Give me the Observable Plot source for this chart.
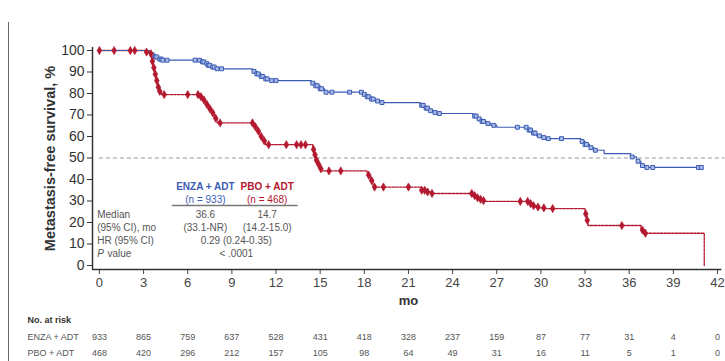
<!DOCTYPE html>
<html>
<head>
<meta charset="utf-8">
<script src="https://cdn.jsdelivr.net/npm/d3@7"></script>
<script src="https://cdn.jsdelivr.net/npm/@observablehq/plot@0.6"></script>
<style>
  html, body { margin: 0; padding: 0; background: #fff; }
  #wrap { position: relative; width: 725px; height: 361px; overflow: hidden; }
  #edge { position: absolute; left: 8px; top: 22px; width: 1px; height: 340px; background: #666; }
  svg { font-family: "Liberation Sans", Arial, sans-serif; }
</style>
</head>
<body>
<div id="wrap"><div id="edge"></div></div>
<script>
// ---- Data ----
const monthTicks = [0, 3, 6, 9, 12, 15, 18, 21, 24, 27, 30, 33, 36, 39, 42];
const survTicks = [0, 10, 20, 30, 40, 50, 60, 70, 80, 90, 100];

// ENZA + ADT Kaplan-Meier steps (time in months, survival %)
const enzaTime = [0, 3.4, 3.6, 3.8, 4.0, 4.3, 7.0, 7.2, 7.4, 7.6, 7.9, 10.4, 10.7, 11.0, 11.3, 11.6,
  14.4, 14.7, 15.0, 15.3, 17.9, 18.2, 18.5, 18.8, 19.1, 21.8, 22.1, 22.4, 22.7, 23.0,
  25.4, 25.7, 26.0, 26.3, 26.6, 27.0, 29.1, 29.4, 29.7, 30.0, 30.3, 32.7, 33.0, 33.3, 33.6,
  34.3, 36.1, 36.5, 36.8, 37.0, 40.9];
const enzaSurv = [100, 99, 98, 97, 96, 95.5, 94.7, 93.9, 93.1, 92.3, 91.5, 90.3, 89.1, 87.9, 86.8, 86.0,
  84.8, 83.6, 82.2, 80.6, 79.6, 78.5, 77.4, 76.5, 75.8, 74.5, 73.2, 72.0, 71.2, 70.7,
  69.5, 68.2, 67.0, 66.0, 65.2, 64.3, 63.0, 61.6, 60.3, 59.5, 59.0, 57.7, 56.3, 54.8, 53.6,
  52.0, 50.5, 48.5, 46.5, 45.6, 45.6];
const enzaCensor = [3.6, 3.8, 3.9, 4.1, 4.2, 4.3, 4.6, 6.5, 6.8, 7.0, 7.1, 7.3, 7.4, 7.5, 7.7, 7.8, 8.0, 8.3,
  10.5, 10.7, 10.8, 11.0, 11.1, 11.3, 11.4, 11.7, 12.0, 14.5, 14.7, 14.8, 15.0, 15.1, 15.4, 15.8, 17.0,
  17.8, 18.0, 18.2, 18.3, 18.5, 18.6, 18.9, 19.2, 21.9, 22.0, 22.2, 22.3, 22.5, 22.8, 23.1,
  25.5, 25.6, 25.8, 26.0, 26.1, 26.4, 26.8, 28.4, 29.0, 29.2, 29.3, 29.5, 29.6, 29.9, 30.2, 30.5, 31.4,
  32.8, 33.0, 33.1, 33.4, 33.7, 36.2, 36.6, 36.9, 37.2, 37.6, 40.7, 40.9];

// PBO + ADT Kaplan-Meier steps
const pboTime = [0, 3.1, 3.4, 3.55, 3.65, 3.75, 3.85, 3.95, 4.05, 4.2, 6.8, 7.0, 7.2, 7.4, 7.6, 7.8, 8.0,
  10.5, 10.7, 10.9, 11.1, 11.3, 14.5, 14.6, 14.7, 14.8, 14.95, 15.1, 18.2, 18.4, 18.6,
  21.9, 22.2, 22.5, 25.4, 25.6, 25.8, 26.0, 26.2, 29.2, 29.4, 29.6, 29.9, 30.3,
  33.0, 33.1, 33.2, 36.8, 37.0, 41.1];
const pboSurv = [100, 99.3, 98.5, 95, 92, 89, 86, 83, 81, 79.5, 78.5, 77, 75, 73, 71, 68.5, 66.3,
  64.5, 62.5, 60, 58, 56.2, 54, 51.5, 49, 47, 45, 44, 42, 39.5, 36.5,
  35, 34.2, 33.5, 32.5, 31.5, 30.8, 30.2, 29.8, 28.8, 27.8, 27.2, 26.8, 26.5,
  24, 21, 18.6, 16.5, 15, 0];
const pboCensor = [0, 1.0, 2.1, 2.4, 3.2, 3.5, 3.6, 3.7, 3.8, 3.9, 4.0, 4.1, 4.4, 6.0, 6.7, 6.9, 7.1, 7.3,
  7.5, 7.7, 7.9, 8.2, 10.4, 10.6, 10.8, 11.0, 11.2, 11.5, 12.7, 13.4, 13.7, 14.0,
  14.55, 14.65, 14.75, 14.9, 15.05, 15.6, 16.4, 18.3, 18.5, 18.7, 19.3, 21.0,
  21.9, 22.1, 22.3, 22.6, 25.3, 25.5, 25.7, 25.9, 26.1, 28.6, 29.1, 29.3, 29.5, 29.8, 30.2, 30.8,
  33.05, 33.15, 35.5, 36.9, 37.1];

// Number at risk
const riskTimes = [0, 3, 6, 9, 12, 15, 18, 21, 24, 27, 30, 33, 36, 39, 42];
const enzaRisk = [933, 865, 759, 637, 528, 431, 418, 328, 237, 159, 87, 77, 31, 4, 0];
const pboRisk = [468, 420, 296, 212, 157, 105, 98, 64, 49, 31, 16, 11, 5, 1, 0];

// ---- Build tables ----
const BLUE = "#3d5db3", RED = "#b3182f", GRAY = "#555";
const stepAt = (T, S, t) => { let v = S[0]; for (let i = 0; i < T.length; i++) if (T[i] <= t) v = S[i]; return v; };
const enza = enzaTime.map((t, i) => ({t, s: enzaSurv[i]}));
const pbo = pboTime.map((t, i) => ({t, s: pboSurv[i]}));
const enzaC = enzaCensor.map(t => ({t, s: stepAt(enzaTime, enzaSurv, t)}));
const pboC = pboCensor.map(t => ({t, s: stepAt(pboTime, pboSurv, t)}));
const risk = riskTimes.map((t, i) => ({t, e: enzaRisk[i], p: pboRisk[i]}));

const txt = (text, x, y, o = {}) => Plot.text([text], {x: () => x, y: () => y, text: d => d,
  fontSize: 10, fill: GRAY, ...o});

const chart = Plot.plot({
  width: 725, height: 361,
  marginLeft: 92, marginRight: 8, marginTop: 47, marginBottom: 92,
  style: {fontFamily: '"Liberation Sans", Arial, sans-serif', background: "#fff"},
  x: {domain: [-0.47, 42], ticks: monthTicks},
  y: {domain: [-1.86, 101.4], ticks: survTicks},
  marks: [
    Plot.ruleY([50], {x1: 0, x2: 42.5, stroke: "#999", strokeDasharray: "4,3", strokeWidth: 1}),
    Plot.axisY({ticks: survTicks, tickSize: 5, tickPadding: 3, fontSize: 14, color: "#333", label: null}),
    Plot.axisX({ticks: monthTicks, tickSize: 5, tickPadding: 3, fontSize: 13, color: "#444", label: null}),
    Plot.text(["Metastasis-free survival, %"], {frameAnchor: "left", dx: -42, rotate: -90, textAnchor: "middle",
      text: d => d, fontSize: 14.5, fontWeight: "bold", fill: "#333"}),
    Plot.ruleX([-0.47], {y1: -1.86, y2: 101.4, stroke: "#333", strokeWidth: 1.5}),
    Plot.ruleY([-1.86], {x1: -0.47, x2: 42.3, stroke: "#333", strokeWidth: 1.5}),
    Plot.line(pbo, {x: "t", y: "s", curve: "step-after", stroke: RED, strokeWidth: 1.3, strokeDasharray: "2.5,1.2"}),
    Plot.line(enza, {x: "t", y: "s", curve: "step-after", stroke: BLUE, strokeWidth: 1.2}),
    Plot.dot(enzaC, {x: "t", y: "s", symbol: "square", r: 2.2, fill: "#a9bbe6", stroke: BLUE, strokeWidth: 1}),
    Plot.dot(pboC, {x: "t", y: "s", symbol: "diamond", r: 2.5, fill: RED, stroke: RED, strokeWidth: 0.6}),
    // inset summary table
    txt("ENZA + ADT", 7.2, 36.7, {fill: BLUE, fontWeight: "bold"}),
    txt("(n = 933)", 7.2, 30.7, {fill: BLUE}),
    txt("PBO + ADT", 11.4, 36.7, {fill: RED, fontWeight: "bold"}),
    txt("(n = 468)", 11.4, 30.7, {fill: RED}),
    Plot.ruleY([27.9], {x1: 4.95, x2: 13.5, stroke: "#777", strokeWidth: 1.3}),
    txt("Median", -0.15, 23.7, {textAnchor: "start"}),
    txt("36.6", 7.2, 23.7),
    txt("14.7", 11.4, 23.7),
    txt("(95% CI), mo", -0.15, 17.7, {textAnchor: "start"}),
    txt("(33.1-NR)", 7.2, 17.7),
    txt("(14.2-15.0)", 11.4, 17.7),
    txt("HR (95% CI)", -0.15, 11.3, {textAnchor: "start"}),
    txt("0.29 (0.24-0.35)", 9.3, 11.3),
    txt("P", -0.15, 5.6, {textAnchor: "start", fontStyle: "italic"}),
    txt("value", 0.55, 5.6, {textAnchor: "start"}),
    txt("< .0001", 9.3, 5.6),
    // axis title + risk table
    Plot.text(["mo"], {x: () => 21, frameAnchor: "bottom", dy: 35, text: d => d, fontSize: 13, fontWeight: "bold", fill: "#333"}),
    Plot.text(["No. at risk"], {frameAnchor: "bottom-left", dx: -65, dy: 53, text: d => d, textAnchor: "start", fontSize: 9, fontWeight: "bold", fill: "#333"}),
    Plot.text(["ENZA + ADT"], {frameAnchor: "bottom-left", dx: -65, dy: 70, text: d => d, textAnchor: "start", fontSize: 9, fill: GRAY}),
    Plot.text(["PBO + ADT"], {frameAnchor: "bottom-left", dx: -65, dy: 86, text: d => d, textAnchor: "start", fontSize: 9, fill: GRAY}),
    Plot.text(risk, {x: "t", text: "e", frameAnchor: "bottom", dy: 70, fontSize: 9, fill: GRAY}),
    Plot.text(risk, {x: "t", text: "p", frameAnchor: "bottom", dy: 86, fontSize: 9, fill: GRAY})
  ]
});
document.getElementById("wrap").appendChild(chart);
</script>
</body>
</html>
